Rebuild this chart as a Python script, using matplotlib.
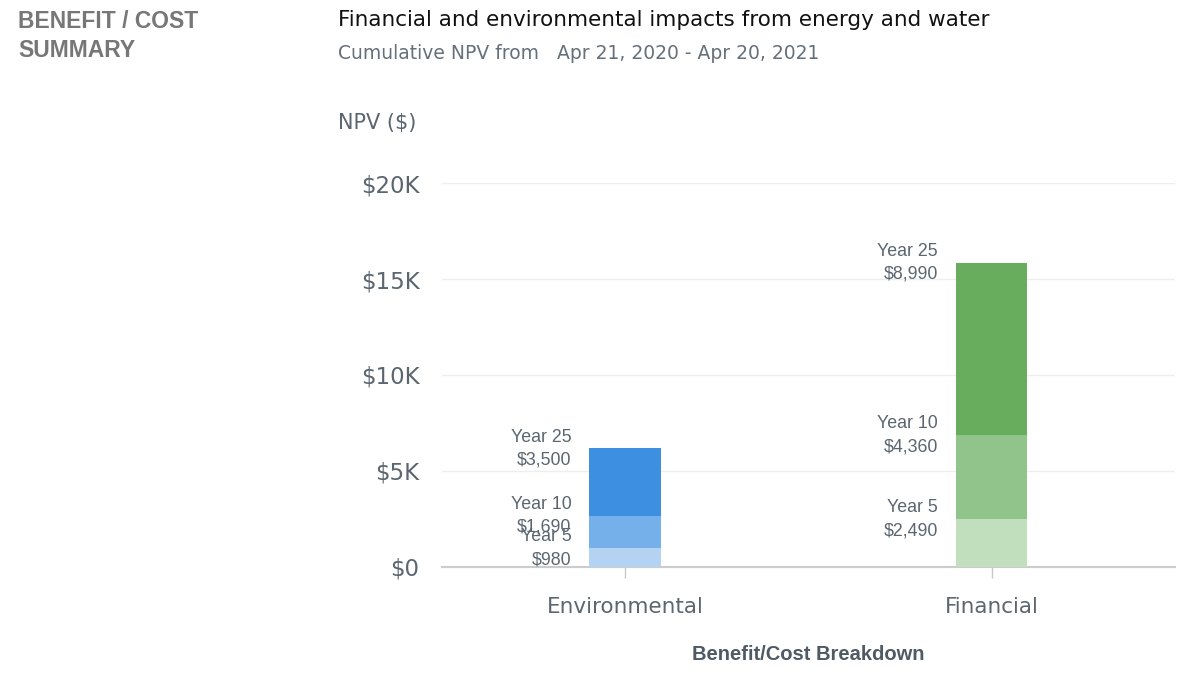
import matplotlib.pyplot as plt
import numpy as np

plt.rcParams['font.family'] = ['DejaVu Sans']

categories = ["Environmental", "Financial"]
year_labels = ["Year 5", "Year 10", "Year 25"]
# stacked segment values per category (Year 5, Year 10, Year 25)
env_values = [980, 1690, 3500]
fin_values = [2490, 4360, 8990]
y_ticks = [0, 5000, 10000, 15000, 20000]
y_tick_labels = ["$0", "$5K", "$10K", "$15K", "$20K"]

env_colors = ["#b4d3f3", "#75b0ea", "#3d8fe1"]
fin_colors = ["#c1dfbd", "#91c48a", "#68ac5d"]
text_grey = "#5b6670"
narrow = ["Liberation Sans", "DejaVu Sans"]

fig = plt.figure(figsize=(12, 6.83), dpi=100)
ax = fig.add_axes([0.368, 0.170, 0.611, 0.562])

x = np.arange(len(categories))
bar_w = 0.196

for xi, values, colors in [(x[0], env_values, env_colors), (x[1], fin_values, fin_colors)]:
    bottom = 0
    for label, val, col in zip(year_labels, values, colors):
        ax.bar(xi, val, bottom=bottom, width=bar_w, color=col, zorder=3)
        bottom += val
        ax.text(xi - bar_w / 2 - 0.048, bottom, f"{label}\n${val:,}",
                ha="right", va="center", fontsize=12.8, color=text_grey,
                family=narrow, linespacing=1.45, zorder=4)

ax.set_xlim(-0.5, 1.5)
ax.set_ylim(0, 20000)
ax.set_yticks(y_ticks)
ax.set_yticklabels(y_tick_labels, fontsize=16.5, color=text_grey)
ax.set_xticks(x)
ax.set_xticklabels(categories, fontsize=15.5, color=text_grey)
ax.tick_params(axis="y", length=0, pad=16)
ax.tick_params(axis="x", length=8, color="#c8c8c8", width=1, pad=14)
ax.yaxis.grid(True, color="#eeeeee", linewidth=1, zorder=0)
for side in ["top", "right", "left"]:
    ax.spines[side].set_visible(False)
ax.spines["bottom"].set_color("#cccccc")
ax.spines["bottom"].set_linewidth(1.5)

ax.set_xlabel("Benefit/Cost Breakdown", fontsize=14.5, color="#4f5a65",
              fontweight="bold", family=narrow, labelpad=20)

fig.text(0.015, 0.985, "BENEFIT / COST\nSUMMARY", fontsize=16.5, fontweight="bold",
         color="#777777", ha="left", va="top", family=narrow, linespacing=1.3)
fig.text(0.282, 0.985, "Financial and environmental impacts from energy and water",
         fontsize=15.5, color="#111111", ha="left", va="top")
fig.text(0.282, 0.935, "Cumulative NPV from   Apr 21, 2020 - Apr 20, 2021",
         fontsize=13.5, color="#66707a", ha="left", va="top")
fig.text(0.282, 0.834, "NPV ($)", fontsize=15, color=text_grey, ha="left", va="top")

fig.savefig("out.png", dpi=100, facecolor="white")
